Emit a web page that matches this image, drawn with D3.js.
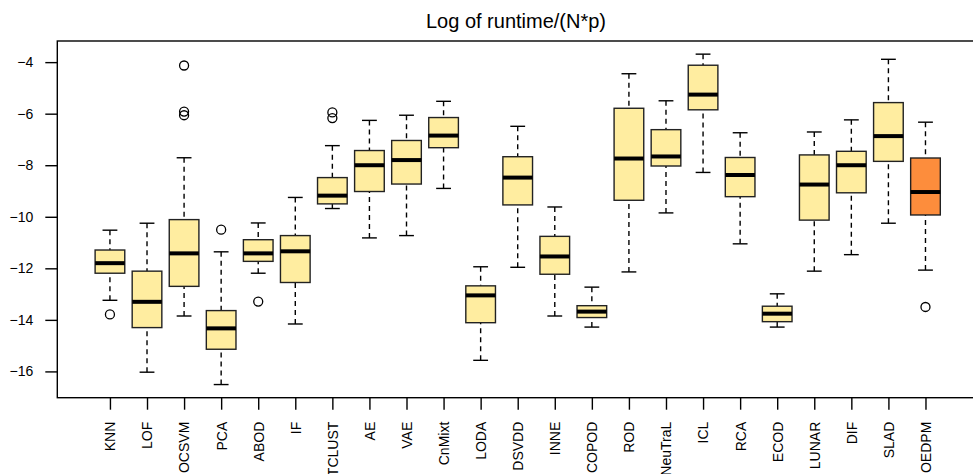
<!DOCTYPE html>
<html>
<head>
<meta charset="utf-8">
<script src="https://cdn.jsdelivr.net/npm/d3@7"></script>
<style>
  body { margin: 0; background: #fff; }
  svg { display: block; font-family: 'Liberation Sans', Arial, sans-serif; }
</style>
</head>
<body>
<div id="chart"></div>
<script>
var methods = ['KNN', 'LOF', 'OCSVM', 'PCA', 'ABOD', 'IF', 'TCLUST', 'AE', 'VAE', 'CnMixt', 'LODA', 'DSVDD',
  'INNE', 'COPOD', 'ROD', 'NeuTraL', 'ICL', 'RCA', 'ECOD', 'LUNAR', 'DIF', 'SLAD', 'OEDPM']
var whiskerLow = [-13.24, -16.03, -13.85, -16.51, -12.19, -14.16, -9.68, -10.82, -10.73, -8.90, -15.57, -11.96,
  -13.85, -14.28, -12.14, -9.85, -8.28, -11.05, -14.28, -12.11, -11.47, -10.25, -12.07]
var q1 = [-12.19, -14.30, -12.70, -15.14, -11.73, -12.55, -9.50, -9.02, -8.73, -7.32, -14.11, -9.54,
  -12.23, -13.91, -9.36, -8.03, -5.85, -9.22, -14.07, -10.13, -9.07, -7.85, -9.93]
var medians = [-11.80, -13.30, -11.42, -14.33, -11.42, -11.34, -9.18, -8.00, -7.80, -6.85, -13.05, -8.48,
  -11.54, -13.68, -7.74, -7.66, -5.26, -8.38, -13.76, -8.75, -8.00, -6.87, -9.04]
var q3 = [-11.29, -12.11, -10.11, -13.64, -10.89, -10.73, -8.48, -7.43, -7.04, -6.15, -12.68, -7.67,
  -10.76, -13.45, -5.79, -6.62, -4.12, -7.70, -13.47, -7.60, -7.46, -5.57, -7.72]
var whiskerHigh = [-10.52, -10.25, -7.71, -11.36, -10.24, -9.25, -7.24, -6.26, -6.06, -5.52, -11.94, -6.49,
  -9.62, -12.73, -4.45, -5.50, -3.69, -6.74, -12.99, -6.71, -6.24, -3.89, -6.33]
var outliers = [[-13.79], [], [-4.13, -5.92, -6.06], [-10.50], [-13.29], [], [-5.95, -6.17], [], [], [], [], [],
  [], [], [], [], [], [], [], [], [], [], [-13.50]]
var fills = ['#FFEDA0', '#FFEDA0', '#FFEDA0', '#FFEDA0', '#FFEDA0', '#FFEDA0', '#FFEDA0', '#FFEDA0', '#FFEDA0',
  '#FFEDA0', '#FFEDA0', '#FFEDA0', '#FFEDA0', '#FFEDA0', '#FFEDA0', '#FFEDA0', '#FFEDA0', '#FFEDA0', '#FFEDA0',
  '#FFEDA0', '#FFEDA0', '#FFEDA0', '#FD8D3C']
var yTicks = [-4, -6, -8, -10, -12, -14, -16]
var title = 'Log of runtime/(N*p)'

var width = 973
var height = 474
var plot = { left: 57.3, top: 41, bottom: 397.7 }

var svg = d3
  .select('#chart')
  .append('svg')
  .attr('width', width)
  .attr('height', height)

var boxes = methods.map((m, i) => ({
  name: m,
  pos: i + 1,
  lo: whiskerLow[i],
  q1: q1[i],
  med: medians[i],
  q3: q3[i],
  hi: whiskerHigh[i],
  out: outliers[i],
  fill: fills[i]
}))

// R style extension of 4% on both axes
var xScale = d3
  .scaleLinear()
  .domain([0.5 - 0.04 * 23, methods.length + 0.5 + 0.04 * 23])
  .range([plot.left, plot.left + 24.84 * 37.07])

var yScale = d3.scaleLinear().domain([-17.02, -3.18]).range([plot.bottom, plot.top])

var boxW = (xScale(2) - xScale(1)) * 0.8
var capW = boxW * 0.5

var g = svg.append('g')

// whiskers
g.selectAll('.whisker-lo')
  .data(boxes)
  .enter()
  .append('line')
  .attr('x1', d => xScale(d.pos))
  .attr('x2', d => xScale(d.pos))
  .attr('y1', d => yScale(d.lo))
  .attr('y2', d => yScale(d.q1))
  .attr('stroke', '#000')
  .attr('stroke-width', 1.4)
  .attr('stroke-dasharray', '5,4')

g.selectAll('.whisker-hi')
  .data(boxes)
  .enter()
  .append('line')
  .attr('x1', d => xScale(d.pos))
  .attr('x2', d => xScale(d.pos))
  .attr('y1', d => yScale(d.hi))
  .attr('y2', d => yScale(d.q3))
  .attr('stroke', '#000')
  .attr('stroke-width', 1.4)
  .attr('stroke-dasharray', '5,4')

// staples
g.selectAll('.cap')
  .data(boxes.flatMap(d => [{ pos: d.pos, v: d.lo }, { pos: d.pos, v: d.hi }]))
  .enter()
  .append('line')
  .attr('x1', d => xScale(d.pos) - capW / 2)
  .attr('x2', d => xScale(d.pos) + capW / 2)
  .attr('y1', d => yScale(d.v))
  .attr('y2', d => yScale(d.v))
  .attr('stroke', '#000')
  .attr('stroke-width', 1.4)

// boxes
g.selectAll('.box')
  .data(boxes)
  .enter()
  .append('rect')
  .attr('x', d => xScale(d.pos) - boxW / 2)
  .attr('width', boxW)
  .attr('y', d => yScale(d.q3))
  .attr('height', d => yScale(d.q1) - yScale(d.q3))
  .attr('fill', d => d.fill)
  .attr('stroke', '#222')
  .attr('stroke-width', 1.4)

// medians
g.selectAll('.median')
  .data(boxes)
  .enter()
  .append('line')
  .attr('x1', d => xScale(d.pos) - boxW / 2)
  .attr('x2', d => xScale(d.pos) + boxW / 2)
  .attr('y1', d => yScale(d.med))
  .attr('y2', d => yScale(d.med))
  .attr('stroke', '#000')
  .attr('stroke-width', 4)

// outliers
g.selectAll('.outlier')
  .data(boxes.flatMap(d => d.out.map(v => ({ pos: d.pos, v: v }))))
  .enter()
  .append('circle')
  .attr('cx', d => xScale(d.pos))
  .attr('cy', d => yScale(d.v))
  .attr('r', 4.5)
  .attr('fill', 'none')
  .attr('stroke', '#000')
  .attr('stroke-width', 1.3)

// plot frame (right side runs off the canvas)
svg.append('rect')
  .attr('x', plot.left)
  .attr('y', plot.top)
  .attr('width', xScale.range()[1] - plot.left)
  .attr('height', plot.bottom - plot.top)
  .attr('fill', 'none')
  .attr('stroke', '#000')
  .attr('stroke-width', 1.4)

// y axis
var yAxis = d3
  .axisLeft(yScale)
  .tickValues(yTicks)
  .tickSize(12)
  .tickPadding(12)
  .tickFormat(d => d3.format('d')(d).replace('-', '\u2212'))

svg.append('g')
  .attr('transform', `translate(${plot.left},0)`)
  .call(yAxis)
  .call(a => a.select('.domain').remove())
  .call(a => a.selectAll('line').attr('stroke', '#000').attr('stroke-width', 1.4))
  .call(a => a.selectAll('text').attr('font-size', 14).attr('fill', '#000').attr('font-family', "'Liberation Sans', Arial, sans-serif"))

// x axis, labels perpendicular
var xAxis = d3
  .axisBottom(xScale)
  .tickValues(d3.range(1, methods.length + 1))
  .tickSize(12)
  .tickFormat(d => methods[d - 1])

svg.append('g')
  .attr('transform', `translate(0,${plot.bottom})`)
  .call(xAxis)
  .call(a => a.select('.domain').remove())
  .call(a => a.selectAll('line').attr('stroke', '#000').attr('stroke-width', 1.4))
  .call(a =>
    a.selectAll('text')
      .attr('font-size', 14)
      .attr('fill', '#000')
      .attr('font-family', "'Liberation Sans', Arial, sans-serif")
      .attr('text-anchor', 'end')
      .attr('transform', 'rotate(-90)')
      .attr('x', -24)
      .attr('y', 0)
      .attr('dy', '0.35em')
  )

// title
svg.append('text')
  .text(title)
  .attr('x', 516)
  .attr('y', 28)
  .attr('text-anchor', 'middle')
  .attr('font-size', 20)
  .attr('fill', '#000')
</script>
</body>
</html>
